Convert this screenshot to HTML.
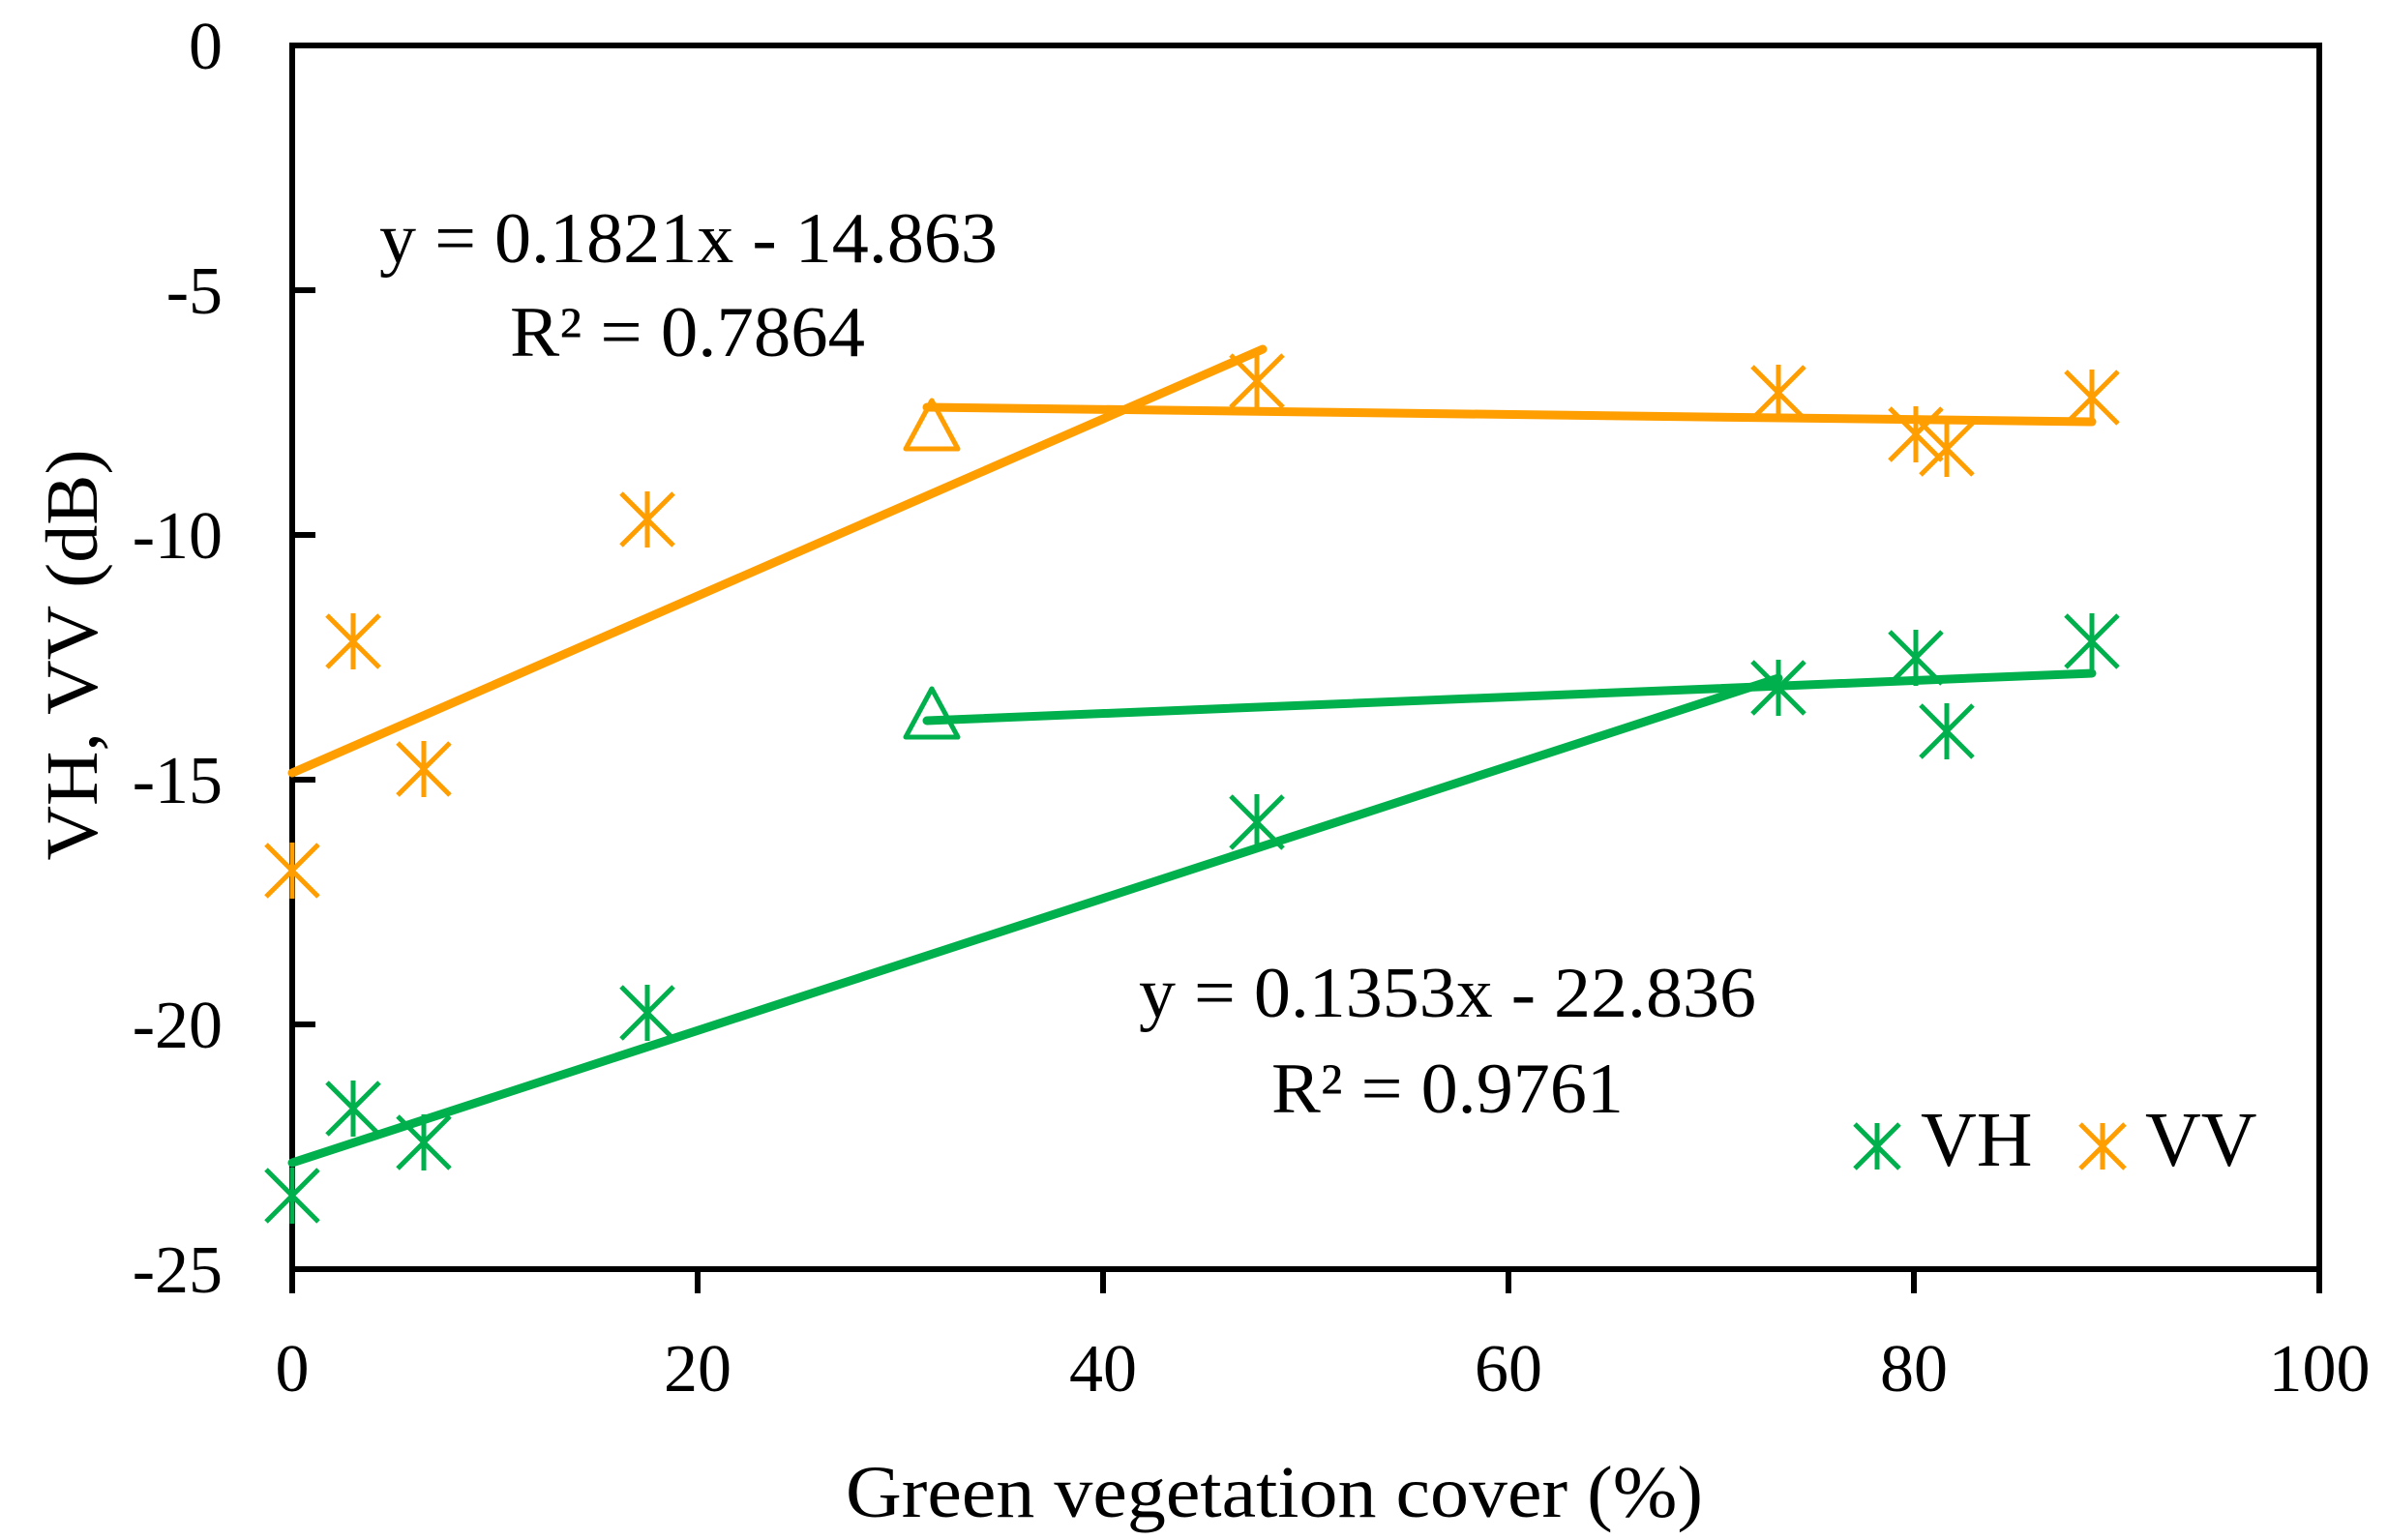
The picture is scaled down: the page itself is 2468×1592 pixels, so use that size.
<!DOCTYPE html>
<html><head><meta charset="utf-8"><style>
html,body{margin:0;padding:0;background:#fff;}
svg{display:block;}
text{font-family:"Liberation Serif",serif;fill:#000;}
</style></head><body>
<svg width="2468" height="1592" viewBox="0 0 2468 1592" xmlns="http://www.w3.org/2000/svg">
<defs>
<g id="ao" stroke="#FF9E00" stroke-width="5" fill="none">
<line x1="-27" y1="-27" x2="27" y2="27"/><line x1="-27" y1="27" x2="27" y2="-27"/><line x1="0" y1="-29" x2="0" y2="29"/>
</g>
<g id="ag" stroke="#00B04C" stroke-width="5" fill="none">
<line x1="-27" y1="-27" x2="27" y2="27"/><line x1="-27" y1="27" x2="27" y2="-27"/><line x1="0" y1="-29" x2="0" y2="29"/>
</g>
<g id="lo" stroke="#FF9E00" stroke-width="5" fill="none">
<line x1="-23" y1="-23" x2="23" y2="23"/><line x1="-23" y1="23" x2="23" y2="-23"/><line x1="0" y1="-24" x2="0" y2="24"/>
</g>
<g id="lg" stroke="#00B04C" stroke-width="5" fill="none">
<line x1="-23" y1="-23" x2="23" y2="23"/><line x1="-23" y1="23" x2="23" y2="-23"/><line x1="0" y1="-24" x2="0" y2="24"/>
</g>
</defs>
<rect width="2468" height="1592" fill="#fff"/>
<!-- frame -->
<rect x="302" y="47" width="2095" height="1265" fill="none" stroke="#000" stroke-width="6"/>
<!-- x ticks -->
<g stroke="#000" stroke-width="6">
<line x1="302" y1="1312" x2="302" y2="1337"/>
<line x1="721" y1="1312" x2="721" y2="1337"/>
<line x1="1140" y1="1312" x2="1140" y2="1337"/>
<line x1="1559" y1="1312" x2="1559" y2="1337"/>
<line x1="1978" y1="1312" x2="1978" y2="1337"/>
<line x1="2397" y1="1312" x2="2397" y2="1337"/>
<line x1="302" y1="300" x2="326" y2="300"/>
<line x1="302" y1="553" x2="326" y2="553"/>
<line x1="302" y1="806" x2="326" y2="806"/>
<line x1="302" y1="1059" x2="326" y2="1059"/>
</g>
<g font-size="70" text-anchor="middle">
<text x="302" y="1438">0</text>
<text x="721" y="1438">20</text>
<text x="1140" y="1438">40</text>
<text x="1559" y="1438">60</text>
<text x="1978" y="1438">80</text>
<text x="2397" y="1438">100</text>
</g>
<g font-size="70" text-anchor="end">
<text x="230" y="71">0</text>
<text x="230" y="324">-5</text>
<text x="230" y="577">-10</text>
<text x="230" y="830">-15</text>
<text x="230" y="1083">-20</text>
<text x="230" y="1336">-25</text>
</g>
<text x="1317" y="1568" font-size="76" text-anchor="middle" textLength="886" lengthAdjust="spacingAndGlyphs">Green vegetation cover (%)</text>
<text transform="translate(100,677) rotate(-90)" font-size="76" text-anchor="middle" textLength="425" lengthAdjust="spacingAndGlyphs">VH, VV (dB)</text>
<!-- trend lines -->
<g stroke-width="9" stroke-linecap="round" fill="none">
<line x1="302" y1="799" x2="1305" y2="361" stroke="#FF9E00"/>
<line x1="958" y1="421" x2="2162" y2="436" stroke="#FF9E00"/>
<line x1="302" y1="1202" x2="1838" y2="701" stroke="#00B04C"/>
<line x1="958" y1="745" x2="2162" y2="696" stroke="#00B04C"/>
</g>
<!-- triangles -->
<polygon points="963,414 990,464 936,464" fill="none" stroke="#FF9E00" stroke-width="5" stroke-linejoin="round"/>
<polygon points="963,712 990,762 936,762" fill="none" stroke="#00B04C" stroke-width="5" stroke-linejoin="round"/>
<!-- VV points -->
<use href="#ao" x="302" y="900"/>
<use href="#ao" x="365" y="663"/>
<use href="#ao" x="438" y="795"/>
<use href="#ao" x="669" y="537"/>
<use href="#ao" x="1299" y="394"/>
<use href="#ao" x="1838" y="406"/>
<use href="#ao" x="1980" y="449"/>
<use href="#ao" x="2012" y="464"/>
<use href="#ao" x="2162" y="411"/>
<!-- VH points -->
<use href="#ag" x="302" y="1236"/>
<use href="#ag" x="365" y="1146"/>
<use href="#ag" x="438" y="1181"/>
<use href="#ag" x="669" y="1047"/>
<use href="#ag" x="1299" y="850"/>
<use href="#ag" x="1838" y="711"/>
<use href="#ag" x="1980" y="680"/>
<use href="#ag" x="2012" y="756"/>
<use href="#ag" x="2162" y="663"/>
<!-- equations -->
<g font-size="74">
<text x="392" y="271" textLength="639" lengthAdjust="spacingAndGlyphs">y = 0.1821x - 14.863</text>
<text x="527" y="368" textLength="367" lengthAdjust="spacingAndGlyphs">R² = 0.7864</text>
<text x="1177" y="1051" textLength="638" lengthAdjust="spacingAndGlyphs">y = 0.1353x - 22.836</text>
<text x="1314" y="1150" textLength="364" lengthAdjust="spacingAndGlyphs">R² = 0.9761</text>
</g>
<!-- legend -->
<use href="#lg" x="1940" y="1185"/>
<use href="#lo" x="2173" y="1185"/>
<g font-size="80">
<text x="1985" y="1205">VH</text>
<text x="2217" y="1205">VV</text>
</g>
</svg>
</body></html>
